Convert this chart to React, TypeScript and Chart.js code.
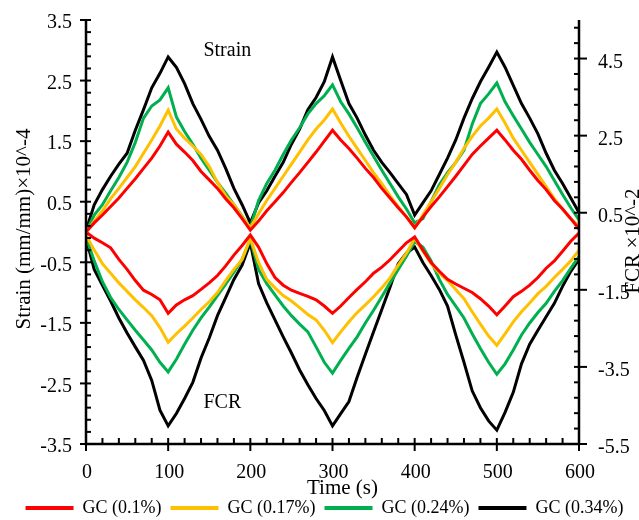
import React, { useEffect, useRef } from "react";
import { Chart, registerables } from "chart.js";

Chart.register(...registerables);

// ---- data ----
const timeS = [
  0, 10, 20, 30, 40, 50, 60, 70, 80, 90, 100,
  110, 120, 130, 140, 150, 160, 170, 180, 190, 200,
  210, 220, 230, 240, 250, 260, 270, 280, 290, 300,
  310, 320, 330, 340, 350, 360, 370, 380, 390, 400,
  410, 420, 430, 440, 450, 460, 470, 480, 490, 500,
  510, 520, 530, 540, 550, 560, 570, 580, 590, 600,
];

const seriesLabels = ["GC (0.1%)", "GC (0.17%)", "GC (0.24%)", "GC (0.34%)"];
const seriesColors = ["#FF0000", "#FFC000", "#00B050", "#000000"];

// Strain (mm/mm) x10^-4  (left axis)
const strainRed = [
  0.0, 0.15, 0.28, 0.42, 0.56, 0.72, 0.88, 1.05, 1.22, 1.42, 1.65,
  1.45, 1.32, 1.18, 1.0, 0.86, 0.72, 0.55, 0.4, 0.22, 0.03,
  0.18, 0.35, 0.5, 0.65, 0.82, 0.98, 1.15, 1.32, 1.5, 1.68,
  1.52, 1.38, 1.22, 1.05, 0.9, 0.72, 0.56, 0.4, 0.25, 0.07,
  0.25, 0.42, 0.58, 0.75, 0.92, 1.1, 1.28, 1.42, 1.55, 1.68,
  1.52, 1.35, 1.2, 1.02, 0.85, 0.7, 0.52, 0.38, 0.22, 0.05,
];
const strainYellow = [
  0.0, 0.18, 0.35, 0.55, 0.72, 0.9, 1.08, 1.3, 1.52, 1.75, 2.01,
  1.7, 1.55, 1.42, 1.28, 1.08, 0.82, 0.6, 0.45, 0.25, 0.07,
  0.3, 0.52, 0.72, 0.92, 1.12, 1.32, 1.52, 1.7, 1.85, 2.03,
  1.8, 1.58, 1.38, 1.18, 0.98, 0.8, 0.6, 0.42, 0.25, 0.07,
  0.28, 0.5, 0.72, 0.95, 1.15, 1.38, 1.58, 1.75, 1.88, 2.03,
  1.8, 1.55, 1.35, 1.15, 0.95, 0.75, 0.55, 0.38, 0.22, 0.1,
];
const strainGreen = [
  0.0, 0.28, 0.45, 0.68, 0.9, 1.15, 1.48, 1.88, 2.08, 2.18, 2.38,
  1.9, 1.66, 1.45, 1.22, 1.02, 0.82, 0.64, 0.45, 0.26, 0.07,
  0.52, 0.8, 1.02, 1.28, 1.52, 1.72, 1.95, 2.12, 2.25, 2.43,
  2.15, 1.95, 1.72, 1.48, 1.25, 1.02, 0.8, 0.58, 0.38, 0.15,
  0.22, 0.5, 0.78, 0.98, 1.15, 1.35, 1.78, 2.12, 2.28, 2.46,
  2.15, 1.92, 1.7, 1.48, 1.28, 1.08, 0.85, 0.62, 0.4, 0.2,
];
const strainBlack = [
  0.02, 0.45, 0.7, 0.92, 1.12, 1.3, 1.68, 2.02, 2.38, 2.62, 2.89,
  2.72, 2.45, 2.12, 1.86, 1.58, 1.35, 1.05, 0.72, 0.45, 0.15,
  0.48, 0.68, 0.92, 1.15, 1.45, 1.7, 2.02, 2.22, 2.48, 2.89,
  2.5, 2.12, 1.88, 1.6, 1.35, 1.15, 0.98, 0.8, 0.62, 0.28,
  0.48, 0.68, 0.95, 1.22, 1.52, 1.88, 2.2, 2.48, 2.72, 2.97,
  2.72, 2.42, 2.12, 1.88, 1.62, 1.3, 1.02, 0.8, 0.56, 0.32,
];

// FCR x10^-2  (right axis)
const fcrRed = [
  0.0, -0.16, -0.28, -0.41, -0.71, -0.97, -1.26, -1.51, -1.62, -1.76, -2.11,
  -1.89, -1.76, -1.65, -1.49, -1.32, -1.13, -0.88, -0.6, -0.35, -0.08,
  -0.39, -0.82, -1.18, -1.38, -1.51, -1.59, -1.67, -1.76, -1.92, -2.11,
  -1.92, -1.7, -1.49, -1.29, -1.07, -0.91, -0.72, -0.5, -0.28, -0.13,
  -0.47, -0.79, -1.02, -1.23, -1.35, -1.46, -1.57, -1.73, -1.92, -2.15,
  -1.92, -1.68, -1.54, -1.38, -1.18, -0.94, -0.75, -0.5, -0.24, -0.03,
];
const fcrYellow = [
  -0.08, -0.47, -0.82, -1.07, -1.32, -1.54, -1.76, -1.96, -2.17, -2.48, -2.86,
  -2.64, -2.44, -2.23, -2.01, -1.81, -1.57, -1.26, -0.97, -0.71, -0.16,
  -0.79, -1.23, -1.45, -1.65, -1.79, -1.96, -2.14, -2.28, -2.55, -2.87,
  -2.59, -2.33, -2.09, -1.89, -1.68, -1.45, -1.19, -0.86, -0.55, -0.16,
  -0.5, -0.82, -1.07, -1.26, -1.49, -1.73, -2.07, -2.39, -2.7, -2.94,
  -2.64, -2.33, -2.07, -1.84, -1.6, -1.41, -1.18, -0.97, -0.75, -0.47,
];
const fcrGreen = [
  -0.13, -0.75, -1.29, -1.7, -2.01, -2.28, -2.55, -2.8, -3.06, -3.38, -3.63,
  -3.3, -2.91, -2.55, -2.23, -1.95, -1.65, -1.35, -1.04, -0.71, -0.2,
  -0.97, -1.34, -1.63, -1.92, -2.17, -2.39, -2.59, -2.98, -3.38, -3.66,
  -3.33, -3.02, -2.72, -2.36, -2.03, -1.68, -1.32, -0.97, -0.63, -0.25,
  -0.39, -0.75, -1.23, -1.62, -1.92, -2.23, -2.64, -3.02, -3.38, -3.69,
  -3.42, -3.06, -2.67, -2.36, -2.09, -1.85, -1.54, -1.26, -0.94, -0.63,
];
const fcrBlack = [
  -0.16, -0.97, -1.38, -1.79, -2.23, -2.62, -2.98, -3.33, -3.85, -4.62, -5.03,
  -4.71, -4.32, -3.9, -3.27, -2.75, -2.17, -1.7, -1.23, -0.86, -0.28,
  -1.34, -1.84, -2.28, -2.72, -3.14, -3.58, -3.96, -4.32, -4.63, -5.03,
  -4.71, -4.4, -3.77, -3.17, -2.59, -2.01, -1.43, -0.82, -0.55, -0.39,
  -0.79, -1.13, -1.49, -1.92, -2.67, -3.38, -4.12, -4.56, -4.9, -5.14,
  -4.68, -4.16, -3.42, -2.91, -2.55, -2.2, -1.85, -1.41, -1.02, -0.71,
];

const xTicks = [0, 100, 200, 300, 400, 500, 600];
const leftTicks = [-3.5, -2.5, -1.5, -0.5, 0.5, 1.5, 2.5, 3.5];
const rightTicks = [-5.5, -3.5, -1.5, 0.5, 2.5, 4.5];
const xMinorStep = 20;
const leftMinorStep = 0.2;
const rightMinorStep = 0.4;

const xTitle = "Time (s)";
const leftTitle = "Strain (mm/mm)×10^-4";
const rightTitle = "FCR ×10^-2";
const strainNote = { text: "Strain", x: 172, y: 3.0 };
const fcrNote = { text: "FCR", x: 166, y: -2.82 };

const FONT = "'Liberation Serif', 'Times New Roman', serif";

const decorPlugin = {
  id: "decor",
  afterDatasetsDraw(chart: any) {
    const { ctx, chartArea: a, scales } = chart;
    const sx = scales.x;
    const sl = scales.yL;
    const sr = scales.yR;
    const line = (x1: number, y1: number, x2: number, y2: number) => {
      ctx.beginPath();
      ctx.moveTo(x1, y1);
      ctx.lineTo(x2, y2);
      ctx.stroke();
    };
    ctx.save();
    ctx.strokeStyle = "#000";
    ctx.lineCap = "butt";
    ctx.lineWidth = 2.5;
    ctx.beginPath();
    ctx.moveTo(a.left, a.top);
    ctx.lineTo(a.left, a.bottom);
    ctx.lineTo(a.right, a.bottom);
    ctx.lineTo(a.right, a.top);
    ctx.stroke();
    ctx.lineWidth = 2;
    // x ticks
    for (let v = sx.min; v <= sx.max + 1e-9; v += xMinorStep) {
      const px = sx.getPixelForValue(v);
      if (xTicks.some((t) => Math.abs(t - v) < 1e-6)) line(px, a.bottom - 6, px, a.bottom + 7);
      else line(px, a.bottom - 6, px, a.bottom);
    }
    // left ticks
    for (let v = leftTicks[0]; v <= sl.max + 1e-9; v += leftMinorStep) {
      const py = sl.getPixelForValue(v);
      if (leftTicks.some((t) => Math.abs(t - v) < 1e-6)) line(a.left - 6, py, a.left + 5, py);
      else line(a.left, py, a.left + 5, py);
    }
    // right ticks
    for (let v = rightTicks[0]; v <= sr.max + 1e-9; v += rightMinorStep) {
      const py = sr.getPixelForValue(v);
      if (rightTicks.some((t) => Math.abs(t - v) < 1e-6)) line(a.right - 5, py, a.right + 8, py);
      else line(a.right - 5, py, a.right, py);
    }
    ctx.restore();
  },
  afterDraw(chart: any) {
    const { ctx, chartArea: a, scales } = chart;
    ctx.save();
    ctx.fillStyle = "#000";
    ctx.textAlign = "center";
    ctx.textBaseline = "middle";
    ctx.font = `21px ${FONT}`;
    ctx.fillText(xTitle, (a.left + a.right) / 2 + 10, 488);
    ctx.save();
    ctx.translate(24, (a.top + a.bottom) / 2 - 3);
    ctx.rotate(-Math.PI / 2);
    ctx.fillText(leftTitle, 0, 0);
    ctx.restore();
    ctx.save();
    ctx.translate(633, (a.top + a.bottom) / 2 + 9);
    ctx.rotate(-Math.PI / 2);
    ctx.fillText(rightTitle, 0, 0);
    ctx.restore();
    ctx.font = `20px ${FONT}`;
    ctx.fillText(strainNote.text, scales.x.getPixelForValue(strainNote.x), scales.yL.getPixelForValue(strainNote.y));
    ctx.fillText(fcrNote.text, scales.x.getPixelForValue(fcrNote.x), scales.yL.getPixelForValue(fcrNote.y));
    ctx.restore();
  },
};

const toPts = (arr: number[]) => timeS.map((t, i) => ({ x: t, y: arr[i] }));

export default function App() {
  const ref = useRef<HTMLCanvasElement | null>(null);
  useEffect(() => {
    if (!ref.current) return;
    const strains = [strainRed, strainYellow, strainGreen, strainBlack];
    const fcrs = [fcrRed, fcrYellow, fcrGreen, fcrBlack];
    const datasets: any[] = [];
    strains.forEach((s, i) => {
      datasets.push({
        label: seriesLabels[i],
        data: toPts(s),
        yAxisID: "yL",
        borderColor: seriesColors[i],
        backgroundColor: seriesColors[i],
        borderWidth: 3,
        pointRadius: 0,
        tension: 0,
      });
    });
    fcrs.forEach((s, i) => {
      datasets.push({
        label: seriesLabels[i] + " FCR",
        data: toPts(s),
        yAxisID: "yR",
        borderColor: seriesColors[i],
        backgroundColor: seriesColors[i],
        borderWidth: 3,
        pointRadius: 0,
        tension: 0,
      });
    });
    const tickFont = { family: FONT, size: 20 };
    const chart = new Chart(ref.current, {
      type: "line",
      data: { datasets },
      plugins: [decorPlugin],
      options: {
        responsive: false,
        animation: false,
        devicePixelRatio: 1,
        layout: { padding: { left: 10, right: 0, top: 20, bottom: 0 } },
        plugins: {
          tooltip: { enabled: false },
          legend: {
            position: "bottom",
            labels: {
              font: { family: FONT, size: 18 },
              color: "#000",
              boxWidth: 48,
              boxHeight: 4,
              padding: 9,
              generateLabels: (c: any) =>
                Chart.defaults.plugins.legend.labels
                  .generateLabels(c)
                  .filter((it: any) => it.datasetIndex < 4)
                  .map((it: any) => ({ ...it, lineWidth: 0 })),
            },
          },
        },
        scales: {
          x: {
            type: "linear",
            min: 0,
            max: 600,
            afterBuildTicks: (s: any) => {
              s.ticks = xTicks.map((v) => ({ value: v }));
            },
            afterFit: (s: any) => {
              s.height = 46;
            },
            grid: { display: false, drawTicks: true, tickLength: 17 },
            border: { display: false },
            ticks: {
              font: tickFont,
              color: "#000",
              padding: 0,
              labelOffset: 1,
              maxRotation: 0,
              autoSkip: false,
              callback: (v: any) => String(v),
            },
          },
          yL: {
            type: "linear",
            position: "left",
            min: -3.5,
            max: 3.5,
            afterBuildTicks: (s: any) => {
              s.ticks = leftTicks.map((v) => ({ value: v }));
            },
            afterFit: (s: any) => {
              s.width = 76;
            },
            grid: { display: false, drawTicks: true, tickLength: 14 },
            border: { display: false },
            ticks: {
              font: tickFont,
              color: "#000",
              padding: 0,
              labelOffset: 3,
              autoSkip: false,
              callback: (v: any) => Number(v).toFixed(1),
            },
          },
          yR: {
            type: "linear",
            position: "right",
            min: -5.5,
            max: 5.5,
            afterBuildTicks: (s: any) => {
              s.ticks = rightTicks.map((v) => ({ value: v }));
            },
            afterFit: (s: any) => {
              s.width = 60;
            },
            grid: { display: false, drawTicks: true, tickLength: 19 },
            border: { display: false },
            ticks: {
              font: tickFont,
              color: "#000",
              padding: 0,
              labelOffset: 4,
              autoSkip: false,
              callback: (v: any) => Number(v).toFixed(1),
            },
          },
        },
      } as any,
    });
    return () => chart.destroy();
  }, []);
  return (
    <div
      style={{
        position: "fixed",
        left: 0,
        top: 0,
        width: 639,
        height: 520,
        overflow: "hidden",
        background: "#fff",
      }}
    >
      <canvas ref={ref} width={639} height={527} style={{ display: "block" }} />
    </div>
  );
}
